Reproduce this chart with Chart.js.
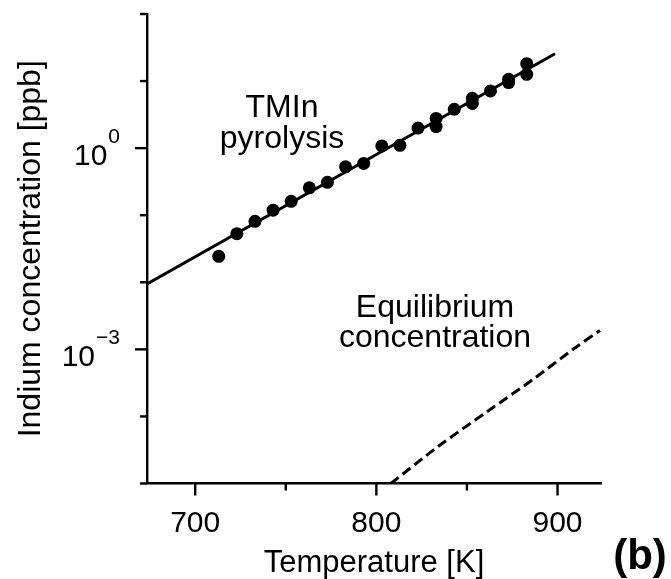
<!DOCTYPE html>
<html lang="en">
<head>
<meta charset="UTF-8">
<title>Indium concentration vs temperature</title>
<script src="https://cdn.jsdelivr.net/npm/chart.js"></script>
<style>
  html, body { margin: 0; padding: 0; background: #ffffff; }
  #wrap { width: 671px; height: 579px; }
</style>
</head>
<body>
<div id="wrap"><canvas id="chart" width="671" height="579"></canvas></div>
<script>
// TMIn pyrolysis measurements (K, ppb)
const pyroTemps = [713, 723, 733, 743, 753, 763, 773, 783, 793, 803, 813, 823,
                   833, 833, 843, 853, 853, 863, 873, 873, 883, 883];
const pyroConc = [0.0244, 0.0531, 0.0811, 0.119, 0.161, 0.256, 0.309, 0.527, 0.592, 1.08, 1.10, 1.99,
                  2.77, 2.10, 3.80, 5.55, 4.65, 7.13, 10.6, 9.5, 18.2, 12.6];

// straight fit through the pyrolysis data
const fitTemps = [673.4, 898.6];
const fitConc = [0.00946, 25.6];

// equilibrium concentration (dashed)
const eqTemps = [808, 835, 861, 887, 909, 923.4];
const eqConc = [1.0e-5, 3.72e-5, 1.17e-4, 3.65e-4, 1.02e-3, 1.91e-3];

const xTicks = [700, 750, 800, 850, 900];
const xTickLabels = ['700', '', '800', '', '900'];
const yTicks = [1e-5, 1e-4, 1e-3, 1e-2, 1e-1, 1, 1e1, 1e2];
const yTickExp = ['', '', '\u22123', '', '', '0', '', ''];

const FONT = '"Liberation Sans", Arial, Helvetica, sans-serif';

function pairs(xs, ys) {
    return xs.map((x, i) => ({ x: x, y: ys[i] }));
}

// ticks, tick labels, titles and notes
const axisDeco = {
    id: 'axisDeco',
    afterDraw(chart) {
        const ctx = chart.ctx;
        const xs = chart.scales.x, ys = chart.scales.y;
        const area = chart.chartArea;
        ctx.save();
        ctx.strokeStyle = '#000';
        ctx.fillStyle = '#000';
        ctx.lineWidth = 2.4;

        yTicks.forEach((v, i) => {
            const y = ys.getPixelForValue(v);
            const len = yTickExp[i] ? 12 : 7;
            ctx.beginPath();
            ctx.moveTo(area.left - len, y);
            ctx.lineTo(area.left, y);
            ctx.stroke();
            if (yTickExp[i]) {
                const supRight = area.left - 27;
                ctx.textAlign = 'right';
                ctx.textBaseline = 'alphabetic';
                ctx.font = '21px ' + FONT;
                ctx.fillText(yTickExp[i], supRight, y - 5.5);
                const w = ctx.measureText(yTickExp[i]).width;
                ctx.font = '30px ' + FONT;
                ctx.fillText('10', supRight - w - 1, y + 16.5);
            }
        });

        xTicks.forEach((v, i) => {
            const x = xs.getPixelForValue(v);
            const len = xTickLabels[i] ? 12 : 7;
            ctx.beginPath();
            ctx.moveTo(x, area.bottom);
            ctx.lineTo(x, area.bottom + len);
            ctx.stroke();
            if (xTickLabels[i]) {
                ctx.textAlign = 'center';
                ctx.textBaseline = 'alphabetic';
                ctx.font = '30px ' + FONT;
                ctx.fillText(xTickLabels[i], x, area.bottom + 48);
            }
        });

        // axis titles
        ctx.textAlign = 'center';
        ctx.textBaseline = 'alphabetic';
        ctx.font = '31px ' + FONT;
        ctx.fillText('Temperature [K]', (area.left + area.right) / 2, 572);

        ctx.save();
        ctx.translate(40, (area.top + area.bottom) / 2);
        ctx.rotate(-Math.PI / 2);
        ctx.font = '32px ' + FONT;
        ctx.fillText('Indium concentration [ppb]', 0, 0);
        ctx.restore();

        // notes
        ctx.font = '32px ' + FONT;
        ctx.fillText('TMIn', 282, 117);
        ctx.fillText('pyrolysis', 282, 148);
        ctx.fillText('Equilibrium', 435, 317);
        ctx.fillText('concentration', 435, 347);

        ctx.font = 'bold 42px ' + FONT;
        ctx.fillText('(b)', 640, 569);
        ctx.restore();
    }
};

new Chart(document.getElementById('chart'), {
    type: 'scatter',
    data: {
        datasets: [
            {
                label: 'fit',
                data: pairs(fitTemps, fitConc),
                showLine: true,
                borderColor: '#000',
                borderWidth: 3,
                pointRadius: 0
            },
            {
                label: 'Equilibrium concentration',
                data: pairs(eqTemps, eqConc),
                showLine: true,
                borderColor: '#000',
                borderWidth: 3,
                borderDash: [10, 5],
                tension: 0.3,
                pointRadius: 0
            },
            {
                label: 'TMIn pyrolysis',
                data: pairs(pyroTemps, pyroConc),
                showLine: false,
                pointRadius: 6.5,
                pointBackgroundColor: '#000',
                pointBorderColor: '#000',
                pointBorderWidth: 0
            }
        ]
    },
    options: {
        responsive: false,
        animation: false,
        layout: { padding: { left: 0, right: 70, top: 14, bottom: 0 } },
        plugins: {
            legend: { display: false },
            tooltip: { enabled: false }
        },
        scales: {
            x: {
                type: 'linear',
                min: 673.4,
                max: 924,
                grid: { display: false },
                border: { display: true, color: '#000', width: 2.4 },
                ticks: { display: false },
                afterFit: s => { s.height = 95.5; }
            },
            y: {
                type: 'logarithmic',
                min: 1e-5,
                max: 100,
                grid: { display: false },
                border: { display: true, color: '#000', width: 2.4 },
                ticks: { display: false },
                afterFit: s => { s.width = 147; }
            }
        }
    },
    plugins: [axisDeco]
});
</script>
</body>
</html>
